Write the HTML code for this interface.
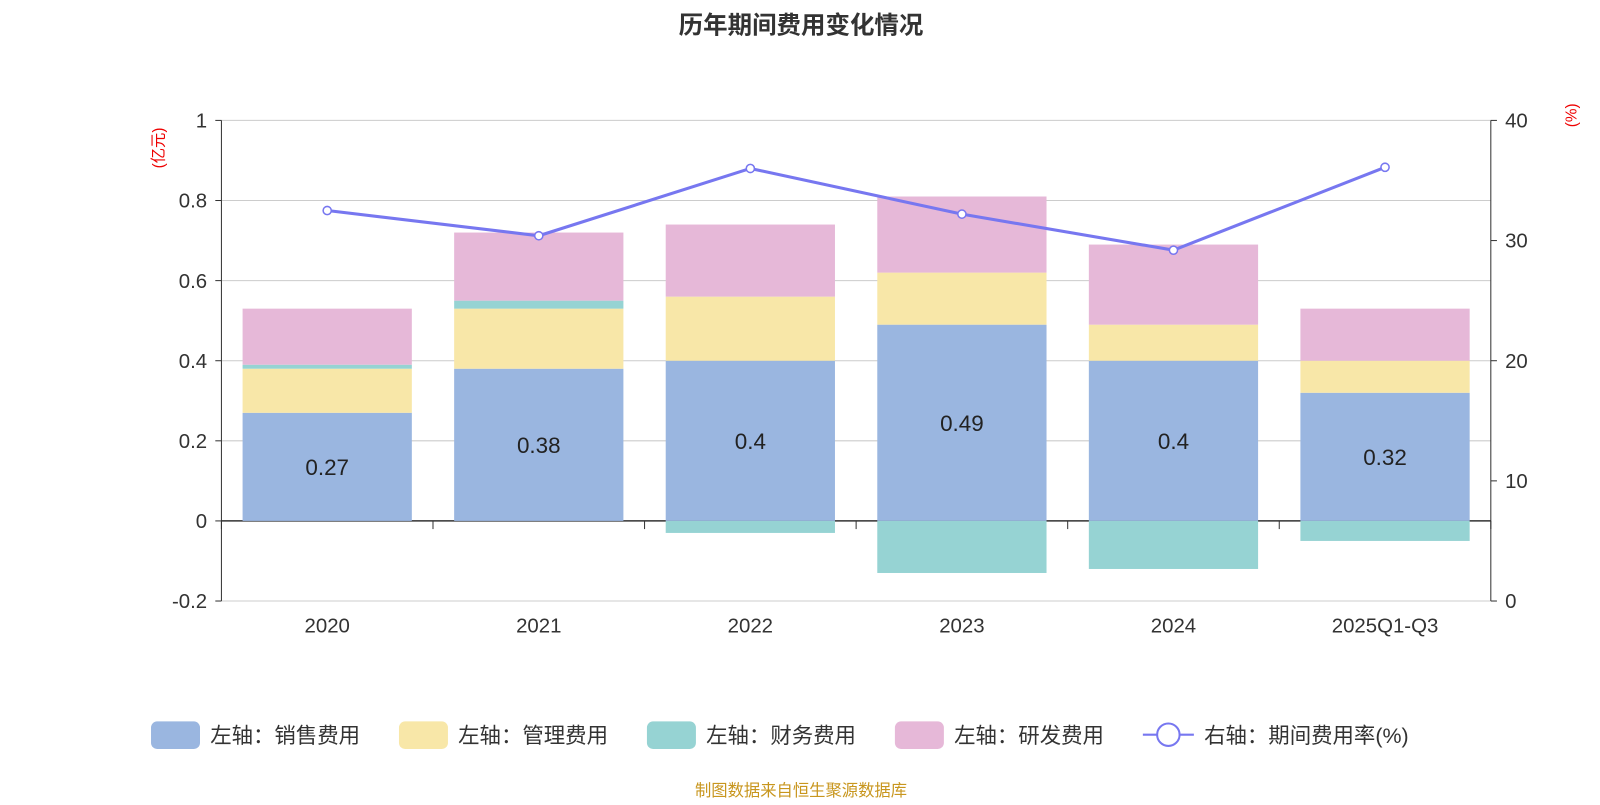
<!DOCTYPE html>
<html><head><meta charset="utf-8"><style>
body{margin:0;background:#fff;width:1600px;height:800px;overflow:hidden;font-family:"Liberation Sans","Noto Sans CJK SC",sans-serif;}
</style></head><body>
<svg id="chart" width="1600" height="800" viewBox="0 0 1568 784" xmlns="http://www.w3.org/2000/svg" font-family="Liberation Sans, Noto Sans CJK SC, sans-serif">
<text x="785" y="33" text-anchor="middle" font-size="24" font-weight="bold" fill="#333">历年期间费用变化情况</text>
<text transform="translate(160,145) rotate(-90)" text-anchor="middle" font-size="15" fill="#e00">(亿元)</text>
<text transform="translate(1545,113) rotate(-90)" text-anchor="middle" font-size="15" fill="#e00">(%)</text>
<g id="grid"></g><g id="bars"></g><g id="line"></g><g id="axes"></g>
<g id="legend"></g>
<text x="785" y="780" text-anchor="middle" font-size="16" fill="#c8961e">制图数据来自恒生聚源数据库</text>
</svg>
<script>
const categories=["2020","2021","2022","2023","2024","2025Q1-Q3"];
const sales=[0.27,0.38,0.40,0.49,0.40,0.32];
const mgmt=[0.11,0.15,0.16,0.13,0.09,0.08];
const fin=[0.01,0.02,-0.03,-0.13,-0.12,-0.05];
const rnd=[0.14,0.17,0.18,0.19,0.20,0.13];
const rate=[32.5,30.4,36.0,32.2,29.2,36.1];
const leftTicks=[-0.2,0,0.2,0.4,0.6,0.8,1];
const rightTicks=[0,10,20,30,40];
const NS="http://www.w3.org/2000/svg";
const X0=217,X1=1461,YT=118,YB=589;
const yL=v=>YT+(1-v)/1.2*(YB-YT);
const yR=v=>YB-v/40*(YB-YT);
const cw=(X1-X0)/categories.length;
const xc=i=>X0+cw*(i+0.5);
function mk(tag,attrs,parent,text){const e=document.createElementNS(NS,tag);for(const k in attrs)e.setAttribute(k,attrs[k]);if(text!==undefined)e.textContent=text;document.getElementById(parent).appendChild(e);return e;}
leftTicks.forEach(t=>{
 const g=mk('line',{x1:X0,x2:X1,y1:yL(t),y2:yL(t),stroke:t===0?'#333':'#ccc','stroke-width':t===0?1.5:1},'grid');
 
 
 const l=mk('text',{x:X0-14,y:yL(t)+7,'text-anchor':'end','font-size':20,fill:'#333'},'axes',String(t));
 
 
 mk('line',{x1:X0-6,x2:X0,y1:yL(t),y2:yL(t),stroke:'#333'},'axes');
});
rightTicks.forEach(t=>{
 const l=mk('text',{x:X1+14,y:yR(t)+7,'text-anchor':'start','font-size':20,fill:'#333'},'axes',String(t));
 
 
 mk('line',{x1:X1,x2:X1+6,y1:yR(t),y2:yR(t),stroke:'#333'},'axes');
});
mk('line',{x1:X0,x2:X0,y1:YT,y2:YB,stroke:'#333'},'axes');
mk('line',{x1:X1,x2:X1,y1:YT,y2:YB,stroke:'#333'},'axes');
for(let i=0;i<=categories.length;i++)mk('line',{x1:X0+cw*i,x2:X0+cw*i,y1:yL(0),y2:yL(0)+8,stroke:'#333'},'axes');
categories.forEach((c,i)=>{
 const l=mk('text',{x:xc(i),y:620,'text-anchor':'middle','font-size':20,fill:'#333'},'axes',c);
 
 
});
const bw=cw*0.8;
const series=[[sales,'#9ab6e0','bar-sales'],[mgmt,'#f8e7a8','bar-management'],[fin,'#96d3d3','bar-finance'],[rnd,'#e6b8d8','bar-rnd']];
categories.forEach((c,i)=>{
 let pos=0,neg=0;
 series.forEach(([arr,col,name])=>{
  const v=arr[i];let a,b;
  if(v>=0){a=pos;b=pos+v;pos=b;}else{a=neg;b=neg+v;neg=b;}
  const r=mk('rect',{x:xc(i)-bw/2,y:Math.min(yL(a),yL(b)),width:bw,height:Math.abs(yL(a)-yL(b)),fill:col},'bars');
  
  
 });
 const t=mk('text',{x:xc(i),y:(yL(0)+yL(sales[i]))/2+8,'text-anchor':'middle','font-size':22,fill:'#222'},'bars',String(sales[i]));
 
 
});
const pl=mk('polyline',{points:rate.map((v,i)=>xc(i)+','+yR(v)).join(' '),fill:'none',stroke:'#7777f0','stroke-width':3},'line');


rate.forEach((v,i)=>{
 const p=mk('circle',{cx:xc(i),cy:yR(v),r:4,fill:'#fff',stroke:'#7777f0','stroke-width':1.5},'line');
 
 
});
const leg=[['#9ab6e0','左轴：销售费用',148],['#f8e7a8','左轴：管理费用',391],['#96d3d3','左轴：财务费用',634],['#e6b8d8','左轴：研发费用',877]];
leg.forEach(([c,t,x])=>{
 const r=mk('rect',{x:x,y:707,width:48,height:27,rx:6,fill:c},'legend');
 
 
 const l=mk('text',{x:x+58,y:728,'font-size':21,fill:'#333'},'legend',t);
 
 
});
mk('line',{x1:1120,x2:1170,y1:720,y2:720,stroke:'#7777f0','stroke-width':2},'legend');
mk('circle',{cx:1145,cy:720,r:11,fill:'#fff',stroke:'#7777f0','stroke-width':2},'legend');
const ll=mk('text',{x:1180,y:728,'font-size':21,fill:'#333'},'legend','右轴：期间费用率(%)');


</script>
</body></html>
